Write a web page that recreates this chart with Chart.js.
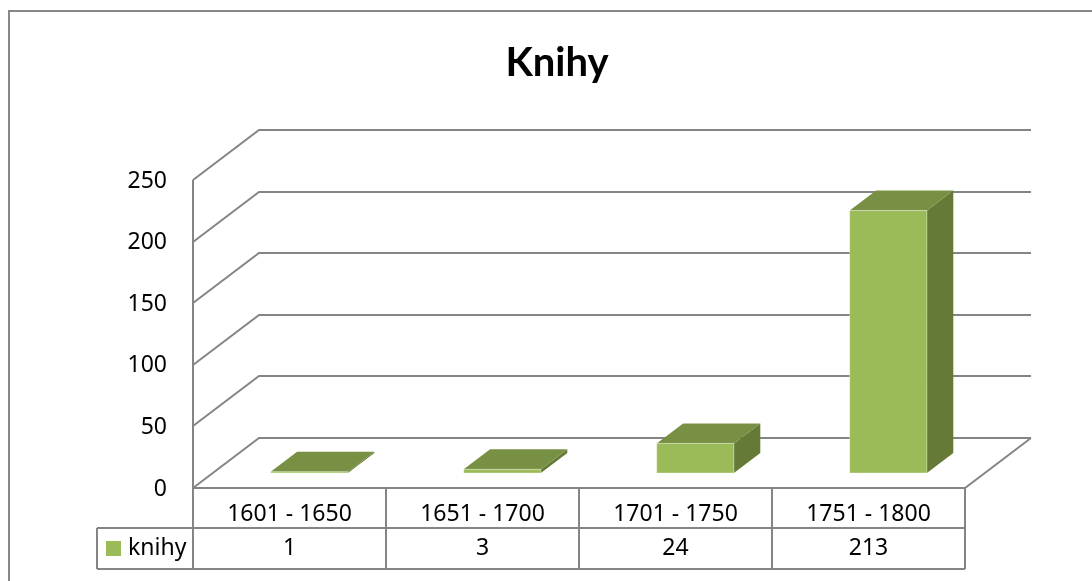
<!DOCTYPE html>
<html>
<head>
<meta charset="utf-8">
<title>Knihy</title>
<script src="https://cdn.jsdelivr.net/npm/chart.js@4"></script>
<style>
  body { margin: 0; background: #fff; }
  #wrap { width: 1092px; height: 581px; }
</style>
</head>
<body>
<div id="wrap"><canvas id="myChart" width="1092" height="581"></canvas></div>
<script>
// data
const categories = ["1601 - 1650", "1651 - 1700", "1701 - 1750", "1751 - 1800"];
const seriesName = "knihy";
const knihy = [1, 3, 24, 213];
const yTicks = [0, 50, 100, 150, 200, 250];

// 3D look
const DX = 66, DY = -50;      // depth of the box
const D0 = 0.3, D1 = 0.7;     // bars sit in the middle of the depth
const GRID = "#858585";
const FONT = "23px 'Noto Sans'";

const box3d = {
  id: "box3d",
  beforeDatasetsDraw(chart) {
    const { ctx, chartArea: a, scales: { x, y } } = chart;
    ctx.save();

    // outer frame
    ctx.strokeStyle = "#878787";
    ctx.lineWidth = 2;
    ctx.strokeRect(9, 11, 1200, 700);

    // title
    ctx.fillStyle = "#000";
    ctx.font = "bold 40px Lato";
    ctx.textAlign = "center";
    ctx.textBaseline = "alphabetic";
    ctx.fillText("Knihy", 557, 76);

    // walls + gridlines
    ctx.strokeStyle = GRID;
    ctx.lineWidth = 2;
    ctx.beginPath();
    yTicks.forEach(v => {
      const py = Math.round(y.getPixelForValue(v));
      ctx.moveTo(a.left, py);
      ctx.lineTo(a.left + DX, py + DY);
      ctx.lineTo(a.right + DX, py + DY);
    });
    ctx.moveTo(a.left, Math.round(y.getPixelForValue(yTicks[yTicks.length - 1])));
    ctx.lineTo(a.left, a.bottom);
    // floor
    ctx.lineTo(a.right, a.bottom);
    ctx.lineTo(a.right + DX, a.bottom + DY);
    ctx.stroke();

    // y labels
    ctx.fillStyle = "#000";
    ctx.font = FONT;
    ctx.textAlign = "right";
    ctx.textBaseline = "middle";
    yTicks.forEach(v => {
      ctx.fillText(String(v), a.left - 26, y.getPixelForValue(v) + 1);
    });

    // data table
    const rowTop = a.bottom, rowMid = 528, rowBot = 569, legLeft = 97;
    const cw = a.width / categories.length;
    ctx.beginPath();
    for (let k = 0; k <= categories.length; k++) {
      const px = Math.round(a.left + k * cw);
      ctx.moveTo(px, rowTop);
      ctx.lineTo(px, rowBot);
    }
    ctx.moveTo(legLeft, rowMid);
    ctx.lineTo(a.right, rowMid);
    ctx.moveTo(legLeft, rowBot);
    ctx.lineTo(a.right, rowBot);
    ctx.moveTo(legLeft, rowMid);
    ctx.lineTo(legLeft, rowBot);
    ctx.stroke();

    ctx.textAlign = "center";
    categories.forEach((c, i) => {
      const cx = x.getPixelForValue(i);
      ctx.fillText(c, cx, 514);
      ctx.fillText(String(knihy[i]), cx, 548);
    });

    // legend key
    ctx.fillStyle = "#9bbb59";
    ctx.fillRect(106, 541, 15, 15);
    ctx.fillStyle = "#000";
    ctx.textAlign = "left";
    ctx.fillText(seriesName, 128, 548);

    ctx.restore();
  },
  afterDatasetsDraw(chart) {
    const { ctx } = chart;
    const meta = chart.getDatasetMeta(0);
    const ddx = (D1 - D0) * DX, ddy = (D1 - D0) * DY;
    ctx.save();
    meta.data.forEach(el => {
      const p = el.getProps(["x", "y", "base", "width"], true);
      const left = p.x - p.width / 2 + D0 * DX;
      const right = left + p.width;
      const yTop = p.y + D0 * DY;
      const yBot = p.base + D0 * DY;

      // side
      ctx.fillStyle = "#657a37";
      ctx.beginPath();
      ctx.moveTo(right, yTop);
      ctx.lineTo(right + ddx, yTop + ddy);
      ctx.lineTo(right + ddx, yBot + ddy);
      ctx.lineTo(right, yBot);
      ctx.closePath();
      ctx.fill();

      // top
      ctx.fillStyle = "#789043";
      ctx.beginPath();
      ctx.moveTo(left, yTop);
      ctx.lineTo(right, yTop);
      ctx.lineTo(right + ddx, yTop + ddy);
      ctx.lineTo(left + ddx, yTop + ddy);
      ctx.closePath();
      ctx.fill();

      // front
      ctx.fillStyle = "#9bbb59";
      ctx.fillRect(left, yTop, p.width, yBot - yTop);
      ctx.strokeStyle = "rgba(255,255,255,0.35)";
      ctx.lineWidth = 1;
      ctx.strokeRect(left, yTop, p.width, yBot - yTop);
    });
    ctx.restore();
  }
};

const ctx = document.getElementById("myChart");

new Chart(ctx, {
  type: "bar",
  data: {
    labels: categories,
    datasets: [{
      label: seriesName,
      data: knihy,
      backgroundColor: "rgba(0,0,0,0)",
      borderWidth: 0,
      barPercentage: 0.4,
      categoryPercentage: 1
    }]
  },
  options: {
    responsive: false,
    animation: false,
    devicePixelRatio: 1,
    events: [],
    layout: {
      padding: { left: 193, right: 127, top: 180, bottom: 93 }
    },
    plugins: {
      legend: { display: false },
      title: { display: false },
      tooltip: { enabled: false }
    },
    scales: {
      x: { display: false },
      y: {
        display: false,
        min: 0,
        max: 250,
        ticks: { stepSize: 50 }
      }
    }
  },
  plugins: [box3d]
});
</script>
</body>
</html>
